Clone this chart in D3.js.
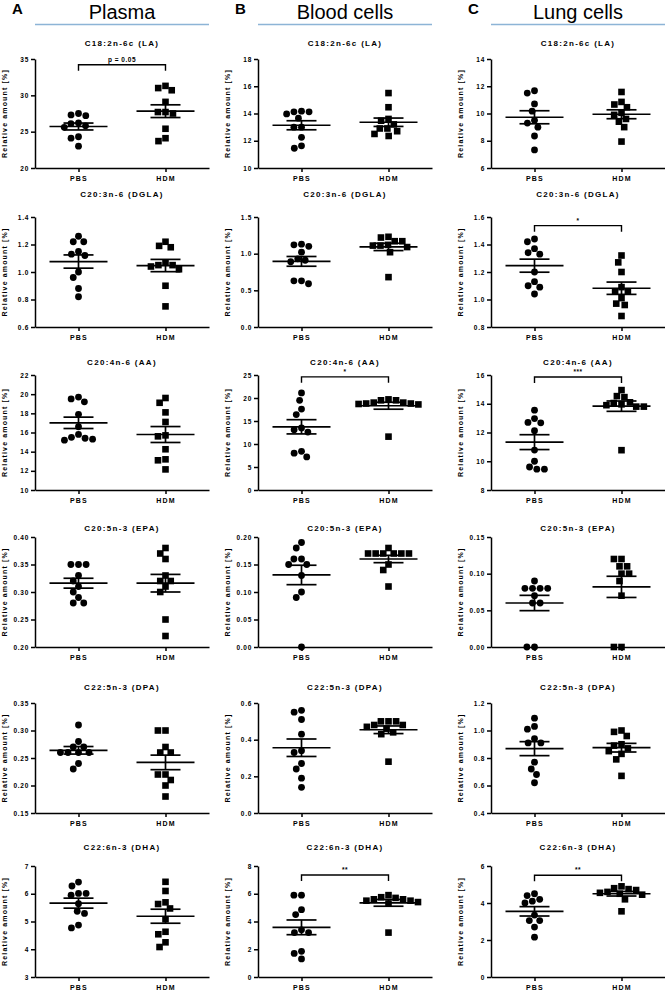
<!DOCTYPE html>
<html>
<head>
<meta charset="utf-8">
<script src="https://cdn.jsdelivr.net/npm/d3@7"></script>
<style>
  body { margin: 0; background: #fff; }
  text { font-family: "Liberation Sans", Arial, sans-serif; fill: #000; }
</style>
</head>
<body>
<div id="chart"></div>
<script>
// groups, panels and headers
const groups = ["PBS", "HDM"];
const columns = ["Plasma", "Blood cells", "Lung cells"];
const columnLetters = ["A", "B", "C"];
const fattyAcids = ["C18:2n-6c (LA)", "C20:3n-6 (DGLA)", "C20:4n-6 (AA)",
                    "C20:5n-3 (EPA)", "C22:5n-3 (DPA)", "C22:6n-3 (DHA)"];

// relative amount [%], one array per fatty acid (rows)
const plasmaPBS = [
  [27.3, 27.2, 27.5, 26.1, 25.6, 25.8, 26.2, 24.3, 24.1, 23.0],
  [1.26, 1.22, 1.22, 1.15, 1.13, 1.12, 1.00, 0.96, 0.88, 0.82],
  [19.5, 19.7, 19.2, 17.9, 16.6, 15.8, 15.4, 15.2, 15.3, 15.5],
  [0.35, 0.35, 0.35, 0.33, 0.32, 0.31, 0.30, 0.29, 0.28, 0.28],
  [0.31, 0.28, 0.27, 0.27, 0.26, 0.26, 0.26, 0.26, 0.24, 0.23],
  [6.42, 6.28, 6.01, 6.01, 5.95, 5.64, 5.37, 5.29, 4.87, 4.77]
];
const plasmaHDM = [
  [31.3, 30.7, 31.0, 29.1, 27.7, 27.7, 27.5, 25.4, 24.1, 23.7],
  [1.19, 1.18, 1.22, 1.07, 1.05, 1.02, 1.04, 1.05, 0.90, 0.75],
  [19.6, 19.1, 18.1, 17.1, 15.7, 15.6, 14.25, 13.2, 13.1, 12.15],
  [0.38, 0.37, 0.36, 0.33, 0.32, 0.32, 0.31, 0.30, 0.25, 0.22],
  [0.30, 0.30, 0.27, 0.26, 0.26, 0.22, 0.21, 0.22, 0.20, 0.18],
  [6.43, 6.10, 5.63, 5.69, 5.47, 5.08, 4.63, 4.54, 4.25, 4.08]
];
const bloodPBS = [
  [14.12, 13.97, 14.12, 14.17, 13.66, 13.0, 13.0, 12.25, 11.45, 11.63],
  [1.13, 1.10, 1.12, 1.02, 0.91, 0.89, 0.93, 0.63, 0.59, 0.63],
  [21.1, 19.5, 17.6, 16.4, 13.1, 12.6, 13.5, 8.4, 8.0, 7.2],
  [0.19, 0.18, 0.16, 0.16, 0.15, 0.15, 0.13, 0.10, 0.09, 0.00],
  [0.56, 0.55, 0.51, 0.43, 0.34, 0.33, 0.27, 0.24, 0.19, 0.14],
  [5.9, 5.9, 4.85, 4.5, 3.4, 3.2, 3.2, 1.85, 1.7, 1.3]
];
const bloodHDM = [
  [15.5, 14.46, 13.47, 13.6, 13.2, 12.9, 12.7, 12.9, 12.35, 12.5],
  [1.23, 1.22, 1.17, 1.12, 1.17, 1.11, 1.09, 1.11, 1.02, 0.68],
  [19.5, 19.0, 18.8, 18.7, 18.6, 18.8, 19.0, 19.5, 19.7, 11.6],
  [0.18, 0.17, 0.17, 0.17, 0.17, 0.17, 0.17, 0.15, 0.14, 0.11],
  [0.50, 0.48, 0.47, 0.48, 0.50, 0.50, 0.46, 0.44, 0.43, 0.28],
  [5.75, 5.6, 5.5, 5.9, 5.4, 5.3, 5.5, 5.6, 5.7, 3.2]
];
const lungPBS = [
  [11.5, 11.67, 10.7, 10.17, 9.5, 9.3, 9.0, 8.35, 7.33],
  [1.42, 1.44, 1.34, 1.33, 1.37, 1.20, 1.13, 1.09, 1.10, 1.04],
  [13.55, 12.97, 12.7, 12.67, 12.13, 10.78, 10.0, 9.6, 9.45, 9.45],
  [0.09, 0.08, 0.08, 0.08, 0.08, 0.07, 0.06, 0.06, 0.00, 0.00],
  [1.09, 1.03, 1.01, 0.94, 0.91, 0.91, 0.77, 0.72, 0.68, 0.62],
  [4.5, 4.4, 4.2, 4.1, 4.0, 3.35, 3.05, 3.05, 2.7, 2.15]
];
const lungHDM = [
  [11.58, 10.85, 10.46, 10.66, 10.05, 9.9, 9.6, 9.4, 9.0, 7.94],
  [1.32, 1.27, 1.20, 1.09, 1.06, 1.06, 1.01, 0.97, 0.96, 0.88],
  [14.95, 14.46, 14.53, 14.1, 13.96, 13.8, 13.9, 14.05, 13.8, 10.77],
  [0.12, 0.12, 0.11, 0.11, 0.10, 0.10, 0.09, 0.07, 0.00, 0.00],
  [1.00, 0.99, 0.96, 0.90, 0.89, 0.87, 0.85, 0.83, 0.79, 0.67],
  [4.9, 4.8, 4.75, 4.7, 4.6, 4.55, 4.5, 4.45, 4.2, 3.55]
];

// y tick values (first and last = axis range) and decimals for the labels
const plasmaTicks = [[20, 25, 30, 35], [0.6, 0.8, 1.0, 1.2, 1.4], [10, 12, 14, 16, 18, 20, 22],
                     [0.20, 0.25, 0.30, 0.35, 0.40], [0.15, 0.20, 0.25, 0.30, 0.35], [3, 4, 5, 6, 7]];
const bloodTicks = [[10, 12, 14, 16, 18], [0, 0.5, 1.0, 1.5], [0, 5, 10, 15, 20, 25],
                    [0, 0.05, 0.10, 0.15, 0.20], [0, 0.2, 0.4, 0.6], [0, 2, 4, 6, 8]];
const lungTicks = [[6, 8, 10, 12, 14], [0.8, 1.0, 1.2, 1.4, 1.6], [8, 10, 12, 14, 16],
                   [0, 0.05, 0.10, 0.15], [0.4, 0.6, 0.8, 1.0, 1.2], [0, 2, 4, 6]];
const plasmaDecimals = [0, 1, 0, 2, 2, 0];
const bloodDecimals = [0, 1, 0, 2, 1, 0];
const lungDecimals = [0, 1, 0, 2, 1, 0];

// significance brackets: column, row, label, height in data units
const brackets = [
  { col: 0, row: 0, label: "p = 0.05", y: 34.2 },
  { col: 2, row: 1, label: "*", y: 1.537 },
  { col: 1, row: 2, label: "*", y: 24.6 },
  { col: 2, row: 2, label: "***", y: 15.86 },
  { col: 1, row: 5, label: "**", y: 7.35 },
  { col: 2, row: 5, label: "**", y: 5.5 }
];

const pbsData = [plasmaPBS, bloodPBS, lungPBS];
const hdmData = [plasmaHDM, bloodHDM, lungHDM];
const tickSets = [plasmaTicks, bloodTicks, lungTicks];
const decimalSets = [plasmaDecimals, bloodDecimals, lungDecimals];

// layout
const colX = [35, 258, 491];
const plotW = 174;
const rowTop = [59, 217, 375, 537, 703, 866];
const rowBottom = [168, 327, 490, 647, 813, 977];
const titleY = [42.5, 194, 362, 528, 687, 847];
const lineColor = "#8db4d6";

const svg = d3.select("#chart").append("svg")
    .attr("width", 665)
    .attr("height", 990);

svg.append("rect").attr("width", 665).attr("height", 990).attr("fill", "#fff");

// column headers
columns.forEach((name, c) => {
  const cx = colX[c] + plotW / 2;
  svg.append("text")
      .attr("x", colX[c] - 23).attr("y", 14)
      .attr("font-size", 15).attr("font-weight", "bold")
      .text(columnLetters[c]);
  svg.append("text")
      .attr("x", cx).attr("y", 18.5)
      .attr("text-anchor", "middle")
      .attr("font-size", 20)
      .text(name);
  svg.append("line")
      .attr("x1", colX[c]).attr("x2", colX[c] + plotW)
      .attr("y1", 24.5).attr("y2", 24.5)
      .attr("stroke", lineColor).attr("stroke-width", 1.3);
});

// simple beeswarm: smallest horizontal offset that avoids overlap
function swarm(ys, d) {
  const order = ys.map((y, i) => i).sort((a, b) => ys[a] - ys[b]);
  const placed = [];
  const xs = new Array(ys.length).fill(0);
  order.forEach(i => {
    const y = ys[i];
    const blocked = [];
    placed.forEach(p => {
      const dy = Math.abs(p.y - y);
      if (dy < d) {
        const w = Math.sqrt(d * d - dy * dy);
        blocked.push([p.x - w, p.x + w]);
      }
    });
    const cands = [0];
    blocked.forEach(b => cands.push(b[0], b[1]));
    cands.sort((a, b) => Math.abs(a) - Math.abs(b) || a - b);
    const x = cands.find(cx => blocked.every(b => cx <= b[0] + 0.01 || cx >= b[1] - 0.01));
    xs[i] = x;
    placed.push({ x: x, y: y });
  });
  return xs;
}

function drawPanel(c, r) {
  const ticks = tickSets[c][r];
  const fmt = d3.format(`.${decimalSets[c][r]}f`);
  const g = svg.append("g");

  const x = d3.scalePoint()
      .domain(groups)
      .range([colX[c], colX[c] + plotW])
      .padding(0.5);

  const y = d3.scaleLinear()
      .domain([ticks[0], ticks[ticks.length - 1]])
      .range([rowBottom[r], rowTop[r]]);

  // title
  g.append("text")
      .attr("x", colX[c] + plotW / 2).attr("y", titleY[r] + 3)
      .attr("text-anchor", "middle")
      .attr("font-size", 8).attr("font-weight", "bold")
      .attr("letter-spacing", 1.3)
      .text(fattyAcids[r]);

  // y axis
  const yAxis = g.append("g")
      .attr("transform", `translate(${colX[c]},0)`)
      .call(d3.axisLeft(y).tickValues(ticks).tickFormat(fmt).tickSize(4).tickSizeOuter(0).tickPadding(2));
  yAxis.selectAll("text")
      .attr("font-size", 6.5).attr("font-weight", "bold")
      .attr("letter-spacing", 0.7)
      .attr("font-family", "Liberation Sans, Arial, sans-serif");

  // x axis
  const xAxis = g.append("g")
      .attr("transform", `translate(0,${rowBottom[r]})`)
      .call(d3.axisBottom(x).tickSize(4).tickSizeOuter(0).tickPadding(4));
  xAxis.selectAll("text")
      .attr("font-size", 7).attr("font-weight", "bold")
      .attr("letter-spacing", 1.2)
      .attr("font-family", "Liberation Sans, Arial, sans-serif");

  [yAxis, xAxis].forEach(a => {
    a.selectAll("path, line").attr("stroke", "#000").attr("stroke-width", 1.5);
  });

  // y label
  g.append("text")
      .attr("transform", `translate(${colX[c] - 28},${(rowTop[r] + rowBottom[r]) / 2}) rotate(-90)`)
      .attr("text-anchor", "middle")
      .attr("font-size", 7).attr("font-weight", "bold")
      .attr("letter-spacing", 1.15)
      .text("Relative amount [%]");

  // points, mean and SEM for each group
  [pbsData[c][r], hdmData[c][r]].forEach((vals, gi) => {
    const cx = x(groups[gi]);
    const ys = vals.map(v => y(v));
    const offs = swarm(ys, 7.6);

    if (gi === 0) {
      g.selectAll(null).data(vals).enter().append("circle")
          .attr("cx", (d, i) => cx + offs[i])
          .attr("cy", d => y(d))
          .attr("r", 3.4)
          .attr("fill", "#000");
    } else {
      g.selectAll(null).data(vals).enter().append("rect")
          .attr("x", (d, i) => cx + offs[i] - 3.3)
          .attr("y", d => y(d) - 3.3)
          .attr("width", 6.6).attr("height", 6.6)
          .attr("fill", "#000");
    }

    const m = d3.mean(vals);
    const sem = d3.deviation(vals) / Math.sqrt(vals.length);
    const stat = g.append("g").attr("stroke", "#000").attr("stroke-width", 1.7);
    stat.append("line").attr("x1", cx - 29).attr("x2", cx + 29).attr("y1", y(m)).attr("y2", y(m));
    stat.append("line").attr("x1", cx - 15).attr("x2", cx + 15).attr("y1", y(m + sem)).attr("y2", y(m + sem));
    stat.append("line").attr("x1", cx - 15).attr("x2", cx + 15).attr("y1", y(m - sem)).attr("y2", y(m - sem));
    stat.append("line").attr("x1", cx).attr("x2", cx).attr("y1", y(m + sem)).attr("y2", y(m - sem));
  });

  // significance bracket
  brackets.filter(b => b.col === c && b.row === r).forEach(b => {
    const by = y(b.y);
    const x1 = x(groups[0]), x2 = x(groups[1]);
    g.append("path")
        .attr("d", `M${x1},${by + 6}V${by}H${x2}V${by + 6}`)
        .attr("fill", "none").attr("stroke", "#000").attr("stroke-width", 1.4);
    g.append("text")
        .attr("x", (x1 + x2) / 2).attr("y", by - 3)
        .attr("text-anchor", "middle")
        .attr("font-size", 6.5).attr("font-weight", "bold")
        .attr("letter-spacing", 0.5)
        .text(b.label);
  });
}

columns.forEach((col, c) => {
  fattyAcids.forEach((fa, r) => drawPanel(c, r));
});
</script>
</body>
</html>
